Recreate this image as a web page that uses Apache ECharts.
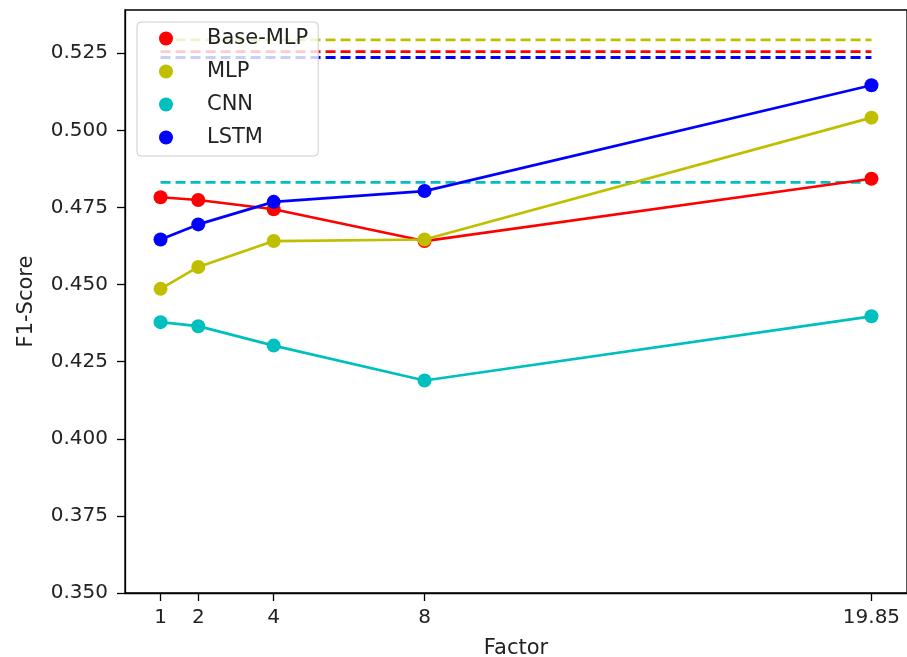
<!DOCTYPE html>
<html>
<head>
<meta charset="utf-8">
<script src="https://cdn.jsdelivr.net/npm/echarts@6/dist/echarts.min.js"></script>
<style>
  html, body { margin: 0; padding: 0; background: #fff; }
  #chart { width: 907px; height: 657px; }
</style>
</head>
<body>
<div id="chart"></div>
<script>
// x positions (factor)
const factors = [1, 2, 4, 8, 19.85]
const yTicks = [0.350, 0.375, 0.400, 0.425, 0.450, 0.475, 0.500, 0.525]
// F1 scores per model
const baseMlp = [0.4783, 0.4774, 0.4744, 0.4641, 0.4843]
const mlp = [0.4486, 0.4557, 0.4641, 0.4646, 0.5041]
const cnn = [0.4378, 0.4365, 0.4302, 0.4189, 0.4397]
const lstm = [0.4646, 0.4695, 0.4768, 0.4803, 0.5146]
// dashed reference levels
const baseMlpRef = 0.5255
const mlpRef = 0.5293
const cnnRef = 0.4831
const lstmRef = 0.5236

const font = 'DejaVu Sans'
const colors = {
    red: '#ff0000',
    yellow: '#bfbf00',
    cyan: '#00bfbf',
    blue: '#0000ff'
}

const pts = arr => factors.map((x, i) => [x, arr[i]])
const refLine = (name, val, color) => ({
    name: name,
    type: 'line',
    data: [[factors[0], val], [factors[factors.length - 1], val]],
    showSymbol: false,
    symbol: 'none',
    silent: true,
    lineStyle: { color: color, width: 2.8, type: [10, 5] },
    z: 1
})
const mainLine = (name, arr, color, z) => ({
    name: name,
    type: 'line',
    data: pts(arr),
    symbol: 'circle',
    symbolSize: 14,
    itemStyle: { color: color },
    lineStyle: { color: color, width: 2.7 },
    z: z
})

const chart = echarts.init(document.getElementById('chart'), null, { renderer: 'canvas' })
chart.setOption({
    animation: false,
    backgroundColor: '#ffffff',
    grid: {
        left: 125, right: 0, top: 10, bottom: 64,
        outerBoundsMode: 'none',
        containLabel: false,
        show: true, borderColor: '#000', borderWidth: 1.3, backgroundColor: 'transparent'
    },
    legend: {
        orient: 'vertical',
        left: 137,
        top: 22,
        data: ['Base-MLP', 'MLP', 'CNN', 'LSTM'],
        icon: 'circle',
        itemWidth: 14,
        itemHeight: 14,
        itemGap: 12,
        padding: [6, 10, 8, 22],
        backgroundColor: 'rgba(255,255,255,0.8)',
        borderColor: '#cccccc',
        borderWidth: 1,
        borderRadius: 4,
        textStyle: {
            fontFamily: font, fontSize: 21, color: '#222',
            lineHeight: 21, padding: [0, 0, 0, 29]
        }
    },
    xAxis: {
        type: 'value',
        min: 0.0575,
        max: 20.7925,
        name: 'Factor',
        nameLocation: 'middle',
        nameGap: 45,
        nameTextStyle: { fontFamily: font, fontSize: 21, color: '#222' },
        splitLine: { show: false },
        axisLine: { onZero: false, lineStyle: { color: '#000', width: 1.3 } },
        axisTick: { length: 8, lineStyle: { color: '#000', width: 1.3 }, customValues: factors },
        axisLabel: {
            customValues: factors,
            formatter: v => String(v),
            fontFamily: font, fontSize: 20, color: '#222', margin: 15
        }
    },
    yAxis: {
        type: 'value',
        min: 0.35,
        max: 0.539,
        name: 'F1-Score',
        nameLocation: 'middle',
        nameGap: 88,
        nameTextStyle: { fontFamily: font, fontSize: 21, color: '#222' },
        splitLine: { show: false },
        axisLine: { onZero: false, lineStyle: { color: '#000', width: 1.3 } },
        axisTick: { length: 8, lineStyle: { color: '#000', width: 1.3 }, customValues: yTicks },
        axisLabel: {
            customValues: yTicks,
            formatter: v => v.toFixed(3),
            fontFamily: font, fontSize: 20, color: '#222', margin: 17
        }
    },
    series: [
        refLine('Base-MLP ref', baseMlpRef, colors.red),
        refLine('MLP ref', mlpRef, colors.yellow),
        refLine('CNN ref', cnnRef, colors.cyan),
        refLine('LSTM ref', lstmRef, colors.blue),
        mainLine('Base-MLP', baseMlp, colors.red, 2),
        mainLine('MLP', mlp, colors.yellow, 3),
        mainLine('CNN', cnn, colors.cyan, 4),
        mainLine('LSTM', lstm, colors.blue, 5)
    ]
})
</script>
</body>
</html>
